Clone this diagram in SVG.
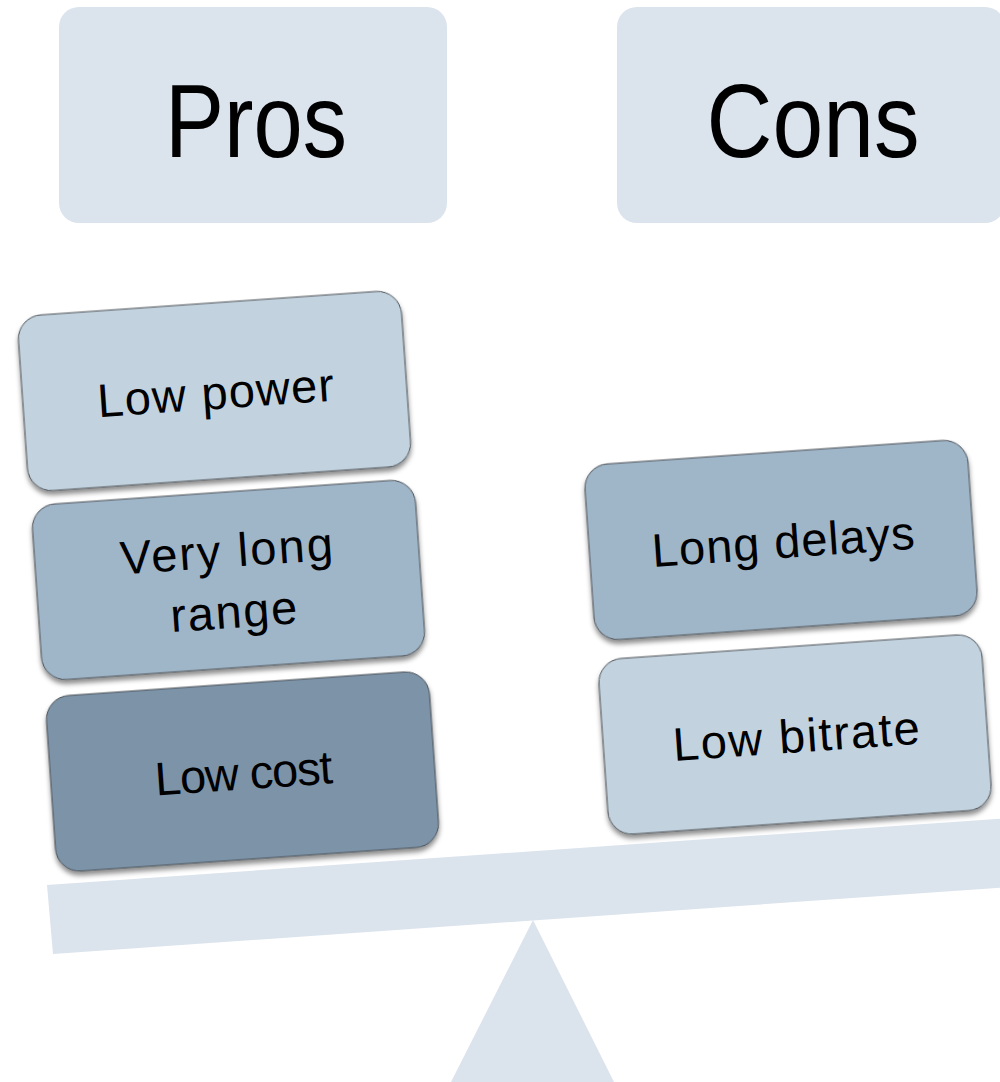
<svg xmlns="http://www.w3.org/2000/svg" width="1000" height="1082" viewBox="0 0 1000 1082">
  <defs>
    <filter id="cardShadow" x="-10%" y="-15%" width="120%" height="140%">
      <feDropShadow dx="0" dy="4" stdDeviation="2.5" flood-color="#000" flood-opacity="0.45"/>
    </filter>
    <style>
      .scale { fill: #dbe3ed; }
      .header { fill: #dbe3ed; }
      .card { stroke: #4a4f55; stroke-width: 1; filter: url(#cardShadow); }
      .light { fill: #c2d3df; }
      .mid { fill: #9fb5c8; }
      .dark { fill: #7b93a8; }
      .title { font-family: "Liberation Sans", Arial, sans-serif; font-size: 103px; fill: #000; text-anchor: middle; }
      .label { font-family: "Liberation Sans", Arial, sans-serif; font-size: 47px; fill: #000; text-anchor: middle; }
    </style>
  </defs>
  <rect width="1000" height="1082" fill="#ffffff"/>

  <!-- balance: fulcrum and tilted beam -->
  <g id="scale">
    <polygon class="scale" points="533,920 451,1082 614,1082"/>
    <polygon class="scale" points="47,885 1010,818 1010,887 53,954"/>
  </g>

  <!-- column headers -->
  <g id="pros-header">
    <rect class="header" x="59" y="7" width="388" height="216" rx="20"/>
    <text class="title" x="256" y="157" textLength="182" lengthAdjust="spacingAndGlyphs">Pros</text>
  </g>
  <g id="cons-header">
    <rect class="header" x="617" y="7" width="388" height="216" rx="20"/>
    <text class="title" x="813" y="157" textLength="213" lengthAdjust="spacingAndGlyphs">Cons</text>
  </g>

  <!-- pros stack (left pan) -->
  <g id="low-power" transform="translate(214.5 391) rotate(-4)">
    <rect class="card light" x="-192" y="-88" width="384" height="176" rx="24"/>
    <text class="label" x="1" y="18" textLength="237" lengthAdjust="spacing">Low power</text>
  </g>
  <g id="very-long-range" transform="translate(228.5 580) rotate(-4)">
    <rect class="card mid" x="-192" y="-88" width="384" height="176" rx="24"/>
    <text class="label" x="0" y="-13" textLength="213" lengthAdjust="spacing">Very long</text>
    <text class="label" x="3" y="48" textLength="127" lengthAdjust="spacing">range</text>
  </g>
  <g id="low-cost" transform="translate(242.5 771.5) rotate(-4)">
    <rect class="card dark" x="-192" y="-88" width="384" height="176" rx="24"/>
    <text class="label" x="1" y="18" textLength="178" lengthAdjust="spacing">Low cost</text>
  </g>

  <!-- cons stack (right pan) -->
  <g id="long-delays" transform="translate(781 540) rotate(-4)">
    <rect class="card mid" x="-192" y="-88" width="384" height="176" rx="24"/>
    <text class="label" x="2" y="18" textLength="263" lengthAdjust="spacing">Long delays</text>
  </g>
  <g id="low-bitrate" transform="translate(795 734.5) rotate(-4)">
    <rect class="card light" x="-192" y="-88" width="384" height="176" rx="24"/>
    <text class="label" x="1" y="18" textLength="247" lengthAdjust="spacing">Low bitrate</text>
  </g>
</svg>
